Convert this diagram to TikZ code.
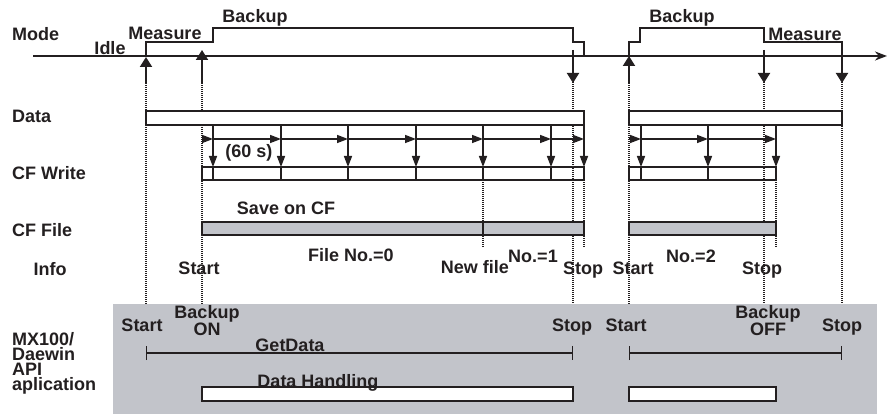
\documentclass[tikz,border=0pt]{standalone}
\usepackage{fontspec}
\setmainfont{Liberation Sans}
\usetikzlibrary{arrows.meta}
\definecolor{ink}{RGB}{35,31,32}
\definecolor{panelgray}{RGB}{194,196,202}
\begin{document}
\begin{tikzpicture}[x=1pt, y=-1pt, ink,
    lbl/.style={font=\bfseries\fontsize{18}{14.5}\selectfont, inner sep=0pt, anchor=base, text=ink},
    two/.style={lbl, anchor=center, align=center},
    sig/.style={line width=1.3pt},
    bar/.style={draw=ink, line width=1.3pt},
    guide/.style={line width=1.2pt, dash pattern=on 1pt off 1pt},
    event/.style={-{Triangle[length=10pt,width=12pt]}, line width=1.9pt},
    tick/.style={-{Triangle[length=11pt,width=8pt]}, line width=1.5pt}
]
    \useasboundingbox (0,0) rectangle (887,414);
    \fill[panelgray] (113,304) rectangle (877,414);

    % time axis and mode signal
    \coordinate (t0) at (33,56);
    \coordinate (t1) at (887,56);
    \draw[line width=2pt, -{Stealth[length=12pt,width=9pt]}] (t0) -- (t1);
    \draw[sig] (146,56) |- (213,42) |- (573,28) |- (584,42) -- (584,56);
    \draw[sig] (629,56) |- (640,42) |- (764,28) |- (842,42) -- (842,56);

    % guides
    \foreach \x in {146,202,629} \draw[guide] (\x,83) -- (\x,304);
    \foreach \x in {573,764,842} \draw[guide] (\x,82) -- (\x,304);
    \foreach \x in {483,584,776} \draw[guide] (\x,180) -- (\x,248);

    % events
    \draw[event] (146,83) -- (146,57);
    \draw[event] (202,83) -- (202,50);
    \draw[event] (629,83) -- (629,56);
    \foreach \x in {573,764,842} \draw[event] (\x,50) -- (\x,83);

    % data and CF write
    \draw[bar, fill=white] (146,111) rectangle (584,125);
    \draw[bar, fill=white] (629,111) rectangle (842,125);
    \draw[bar] (202,167) rectangle (584,180);
    \draw[bar] (629,167) rectangle (776,180);
    \foreach \a/\b in {202/213,213/281,281/348,348/416,416/483,483/551,551/584,629/641,641/708,708/776}
        \draw[tick] (\a,139) -- (\b,139);
    \foreach \x in {213,281,348,416,483,551,584,641,708,776} {
        \draw[tick] (\x,125) -- (\x,167);
        \draw[bar] (\x,167) -- (\x,180);
    }

    % CF file
    \draw[bar, fill=panelgray] (202,222) rectangle (584,235);
    \draw[bar] (483,222) -- (483,235);
    \draw[bar, fill=panelgray] (629,222) rectangle (776,235);

    % application
    \draw[bar, {Bar[width=14pt]}-{Bar[width=14pt]}] (146,353) -- (573,353);
    \draw[bar, {Bar[width=14pt]}-{Bar[width=14pt]}] (629,353) -- (842,353);
    \draw[bar, fill=white] (202,387) rectangle (573,401);
    \draw[bar, fill=white] (629,387) rectangle (776,401);

    % labels
    \node[lbl, anchor=base west] (mode) at (12,41) {Mode};
    \node[lbl] (idle) at (110,55) {Idle};
    \node[lbl] (meas1) at (165,40) {Measure};
    \node[lbl] (back1) at (255,23) {Backup};
    \node[lbl] (back2) at (682,23) {Backup};
    \node[lbl] (meas2) at (805,41) {Measure};
    \node[lbl, anchor=base west] (data) at (12,123) {Data};
    \node[lbl] (period) at (249,158) {(60 s)};
    \node[lbl, anchor=base west] (cfwrite) at (12,180) {CF Write};
    \node[lbl] (save) at (286,215) {Save on CF};
    \node[lbl, anchor=base west] (cffile) at (12,237) {CF File};
    \node[lbl] (file0) at (351,262) {File No.=0};
    \node[lbl] (file1) at (533,263) {No.=1};
    \node[lbl] (file2) at (691,263) {No.=2};
    \node[lbl] (info) at (50,276) {Info};
    \node[lbl] (istart1) at (199,275) {Start};
    \node[lbl] (newfile) at (475,274) {New file};
    \node[lbl] (istop1) at (583,275) {Stop};
    \node[lbl] (istart2) at (633,275) {Start};
    \node[lbl] (istop2) at (762,275) {Stop};
    \node[lbl, anchor=north west, align=left, font=\bfseries\fontsize{18}{15}\selectfont] (app) at (12,332) {MX100/\\Daewin\\API\\aplication};
    \node[lbl] (astart1) at (142,332) {Start};
    \node[two] (bon) at (207,320.5) {Backup\\ON};
    \node[lbl] (astop1) at (572,332) {Stop};
    \node[lbl] (astart2) at (626,332) {Start};
    \node[two] (boff) at (768,320.5) {Backup\\OFF};
    \node[lbl] (astop2) at (842,332) {Stop};
    \node[lbl] (getdata) at (290,352) {GetData};
    \node[lbl] (handling) at (318,387) {Data Handling};
\end{tikzpicture}
\end{document}
